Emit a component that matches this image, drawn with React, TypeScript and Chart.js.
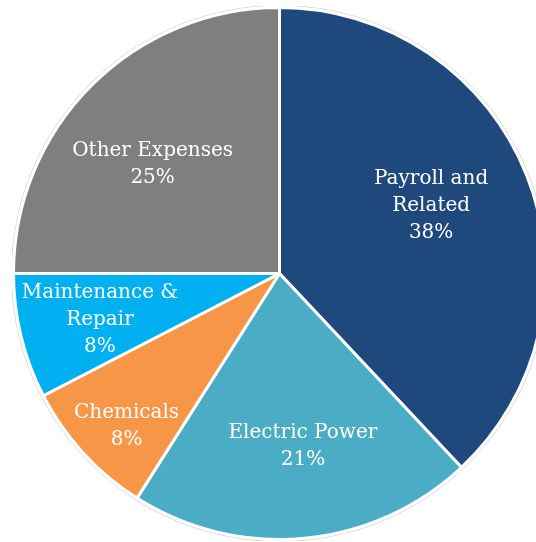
import React, { useEffect, useRef } from "react";
import { Chart, registerables } from "chart.js";

Chart.register(...registerables);

const categories: string[] = [
  "Payroll and Related",
  "Electric Power",
  "Chemicals",
  "Maintenance & Repair",
  "Other Expenses",
];
const labelLines: string[][] = [
  ["Payroll and", "Related"],
  ["Electric Power"],
  ["Chemicals"],
  ["Maintenance &", "Repair"],
  ["Other Expenses"],
];
const shares: number[] = [38.0, 21.0, 8.4, 7.6, 25.0];
const sliceColors: string[] = ["#1F497D", "#4BACC6", "#F79646", "#00B0F0", "#7F7F7F"];

// label block centre, as fraction of radius offset from pie centre (style)
const labelOffsets: [number, number][] = [
  [0.57, -0.261],
  [0.088, 0.641],
  [-0.575, 0.566],
  [-0.675, 0.169],
  [-0.477, -0.417],
];

const labelPlugin = {
  id: "sliceLabels",
  afterDatasetsDraw(chart: any) {
    const ctx = chart.ctx;
    const meta = chart.getDatasetMeta(0);
    const data = chart.data.datasets[0].data as number[];
    const total = data.reduce((a, b) => a + b, 0);
    ctx.save();
    ctx.fillStyle = "#FFFFFF";
    ctx.font = '20px "DejaVu Serif"';
    ctx.textAlign = "center";
    ctx.textBaseline = "alphabetic";
    const lh = 27;
    meta.data.forEach((arc: any, i: number) => {
      const r = arc.outerRadius;
      const cx = arc.x + labelOffsets[i][0] * r;
      const cy = arc.y + labelOffsets[i][1] * r;
      const lines = [...labelLines[i], Math.round((data[i] / total) * 100) + "%"];
      const n = lines.length;
      lines.forEach((t, k) => {
        const y = cy + (k - (n - 1) / 2) * lh + 7;
        ctx.fillText(t, cx, y);
      });
    });
    ctx.restore();
  },
  beforeDatasetsDraw(chart: any) {
    const meta = chart.getDatasetMeta(0);
    const arc: any = meta.data[0];
    if (!arc) return;
    const ctx = chart.ctx;
    ctx.save();
    ctx.strokeStyle = "#D9D9D9";
    ctx.lineWidth = 1;
    ctx.beginPath();
    ctx.arc(arc.x, arc.y, arc.outerRadius + 2, 0, Math.PI * 2);
    ctx.stroke();
    ctx.restore();
  },
};

export default function App() {
  const ref = useRef<HTMLCanvasElement | null>(null);
  useEffect(() => {
    if (!ref.current) return;
    const chart = new Chart(ref.current, {
      type: "pie",
      data: {
        labels: categories,
        datasets: [
          {
            data: shares,
            backgroundColor: sliceColors,
            borderColor: "#FFFFFF",
            borderWidth: 3,
          },
        ],
      },
      options: {
        responsive: false,
        animation: false,
        layout: { padding: 0 },
        plugins: {
          legend: { display: false },
          tooltip: { enabled: false },
        },
      },
      plugins: [labelPlugin],
    });
    return () => chart.destroy();
  }, []);
  return (
    <div
      style={{
        position: "fixed",
        left: 0,
        top: 0,
        width: 536,
        height: 542,
        overflow: "hidden",
        background: "#FFFFFF",
      }}
    >
      <canvas
        ref={ref}
        width={535}
        height={535}
        style={{ position: "absolute", left: 12, top: 6, width: 535, height: 535 }}
      />
    </div>
  );
}
